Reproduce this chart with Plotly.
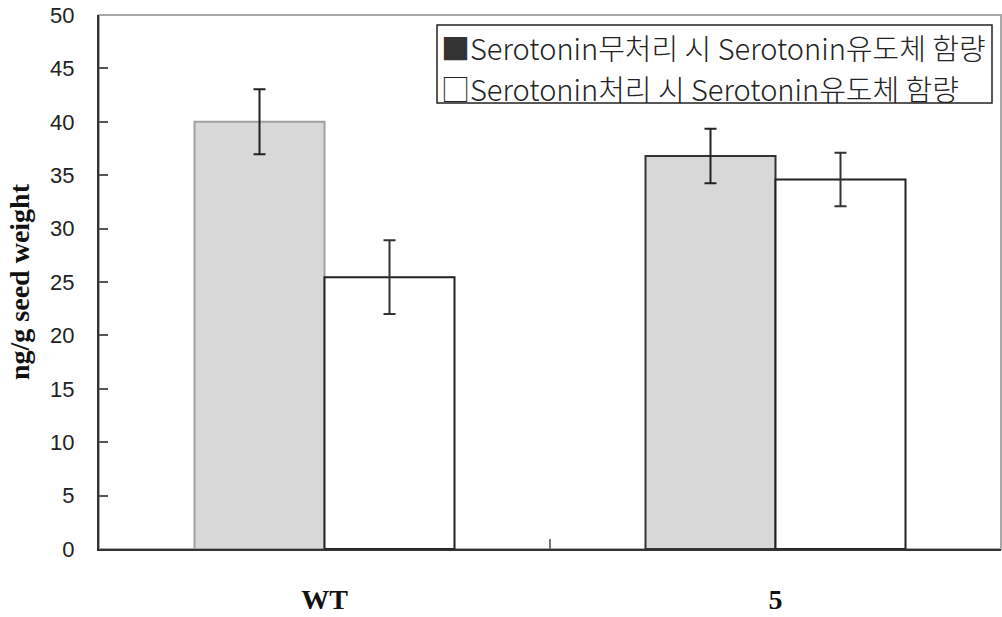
import plotly.graph_objects as go

# Serotonin-derivative content per line (ng/g seed weight)
categories = ["WT", "5"]
untreated_mean = [40.0, 36.8]
untreated_err = [3.05, 2.55]
treated_mean = [25.45, 34.6]
treated_err = [3.45, 2.5]
series_names = [
    "Serotonin무처리 시 Serotonin유도체 함량",
    "Serotonin처리 시 Serotonin유도체 함량",
]
y_ticks = list(range(0, 51, 5))

W, H = 1002, 617
ML, MR, MT, MB = 99, 1, 15, 68
PW, PH = W - ML - MR, H - MT - MB


def px_x(px):
    return (px - ML) / PW


def px_y(py):
    return (H - MB - py) / PH


fig = go.Figure()

fig.add_trace(go.Bar(
    x=categories, y=untreated_mean, name=series_names[0],
    marker=dict(color="#d8d8d8", line=dict(color=["#a0a0a0", "#333333"], width=2)),
    error_y=dict(type="data", array=untreated_err, color="#222222", thickness=2, width=6),
    showlegend=False,
))
fig.add_trace(go.Bar(
    x=categories, y=treated_mean, name=series_names[1],
    marker=dict(color="#ffffff", line=dict(color="#222222", width=2)),
    error_y=dict(type="data", array=treated_err, color="#333333", thickness=2, width=6),
    showlegend=False,
))

# plot-area frame (top/right in light gray)
fig.add_shape(type="rect", xref="paper", yref="paper", x0=0, x1=1, y0=0, y1=1,
              line=dict(color="#a8a8a8", width=2), layer="below")

# legend box
fig.add_shape(type="rect", xref="paper", yref="paper",
              x0=px_x(437), x1=px_x(992), y0=px_y(103), y1=px_y(25),
              line=dict(color="#222222", width=1.5), fillcolor="#ffffff")
legend_font = dict(family="Noto Sans CJK KR, Liberation Sans, sans-serif", size=29,
                   color="#222222", weight=300)
fig.add_annotation(xref="paper", yref="paper", x=px_x(439), y=px_y(47),
                   xanchor="left", yanchor="middle", showarrow=False,
                   text="<span style='color:#333333'>■</span>" + series_names[0],
                   font=legend_font)
fig.add_annotation(xref="paper", yref="paper", x=px_x(439), y=px_y(88),
                   xanchor="left", yanchor="middle", showarrow=False,
                   text="□" + series_names[1],
                   font=legend_font)

fig.update_layout(
    width=W, height=H,
    margin=dict(l=ML, r=MR, t=MT, b=MB, autoexpand=False),
    paper_bgcolor="#ffffff", plot_bgcolor="#ffffff",
    barmode="group", bargap=0.4235, bargroupgap=0,
    xaxis=dict(
        type="category", showgrid=False, zeroline=False, automargin=False,
        showline=True, linecolor="#333333", linewidth=2,
        ticks="inside", tickson="boundaries", ticklen=10, tickwidth=2, tickcolor="#777777",
        tickfont=dict(family="Liberation Serif, Times New Roman, serif", size=28,
                      color="#111111", weight="bold"),
        ticklabelstandoff=24,
    ),
    yaxis=dict(
        range=[0, 50], tickvals=y_ticks, showgrid=False, zeroline=False, automargin=False,
        showline=True, linecolor="#333333", linewidth=2,
        ticks="inside", ticklen=9, tickwidth=2, tickcolor="#555555",
        tickfont=dict(family="Liberation Sans, Arial, sans-serif", size=22, color="#222222"),
        ticklabelstandoff=18,
        title=dict(text="<b>ng/g seed weight</b>",
                   font=dict(family="Liberation Serif, Times New Roman, serif", size=28, color="#111111"),
                   standoff=12),
    ),
)

fig.write_html("out.html")
